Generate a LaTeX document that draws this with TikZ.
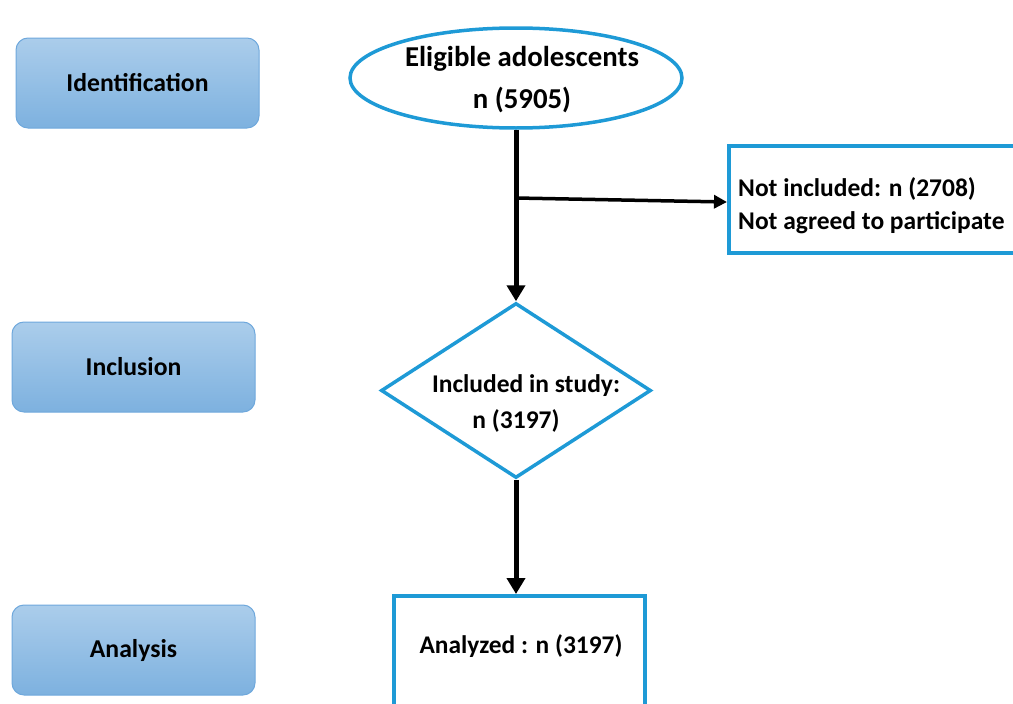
\documentclass[tikz,border=0pt]{standalone}
\usepackage{fontspec}
\setmainfont{Carlito}
\usetikzlibrary{shapes.geometric,arrows.meta}
\definecolor{flowblue}{HTML}{1E9AD6}
\definecolor{stagetop}{HTML}{ABCDEB}
\definecolor{stagebot}{HTML}{7DB1DF}
\definecolor{stageline}{HTML}{6FA8DC}
\tikzset{
  stage/.style={rectangle, rounded corners=12pt, draw=stageline, line width=1pt,
    top color=stagetop, bottom color=stagebot, minimum width=243pt, minimum height=90pt,
    font=\fontsize{25.7}{30}\selectfont\bfseries},
  flowbox/.style={draw=flowblue, line width=3.5pt},
  conn/.style={line width=5pt, -{Triangle[length=16pt,width=18pt]}},
  connthin/.style={line width=3.5pt, -{Triangle[length=13pt,width=13pt]}},
  txt/.style={font=\fontsize{28.8}{42}\selectfont\bfseries, align=center, inner sep=0pt},
}
\begin{document}
\begin{tikzpicture}[x=1pt,y=-1pt]
\useasboundingbox (0,0) rectangle (1013,704);
\clip (0,0) rectangle (1013,704);
% stage labels
\node[stage] (ident) at (137.5,83) {Identification};
\node[stage] (incl) at (133.5,367) {Inclusion};
\node[stage] (anal) at (133.5,650) {Analysis};
% ellipse
\node[flowbox, ellipse, minimum width=332pt, minimum height=100pt, inner sep=0pt] (elig) at (516,78) {};
\node[txt] (eligtxt) at (522,80) {Eligible adolescents\\n (5905)};
% right box
\node[flowbox, rectangle, minimum width=330pt, minimum height=107pt, anchor=north west, inner sep=0pt] (notinc) at (727,144) {};
\node[txt, font=\fontsize{25.5}{33}\selectfont\bfseries, align=left, anchor=west] (notinctxt) at (738,206) {Not included: n (2708)\\Not agreed to participate};
% diamond
\node[flowbox, diamond, minimum width=270pt, minimum height=175pt, inner sep=0pt, aspect=1.54] (study) at (516,390.5) {};
\node[txt, font=\fontsize{25.5}{36}\selectfont\bfseries] (studytxt) at (526,403) {Included in study:\\\hspace*{-20pt}n (3197)};
% bottom box
\node[flowbox, rectangle, minimum width=251pt, minimum height=140pt, anchor=north west, inner sep=0pt] (analyzed) at (392,594) {};
\node[txt, font=\fontsize{25.4}{30}\selectfont\bfseries] (analyzedtxt) at (521,646) {Analyzed : n (3197)};
% connectors
\coordinate (branch) at (516,198);
\draw[conn] (elig.south) -- (study.north);
\draw[connthin] (branch) -- (notinc.west |- 0,202);
\draw[conn] (study.south) -- (study.south |- analyzed.north);
\end{tikzpicture}
\end{document}
